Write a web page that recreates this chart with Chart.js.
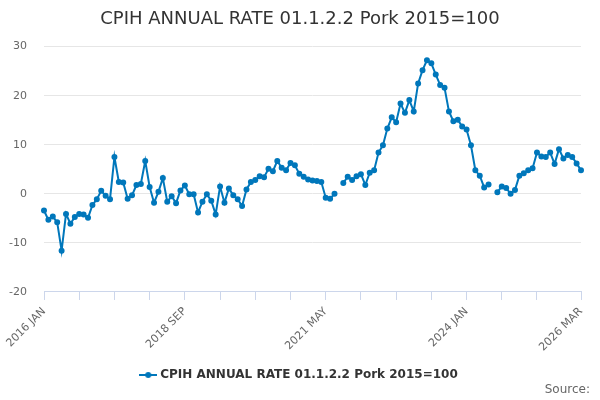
<!DOCTYPE html>
<html>
<head>
<meta charset="utf-8">
<script src="https://cdn.jsdelivr.net/npm/chart.js@4.4.1/dist/chart.umd.min.js"></script>
<style>
  html, body { margin: 0; padding: 0; background: #fff; }
  #wrap { width: 600px; height: 400px; }
</style>
</head>
<body>
<div id="wrap"><canvas id="myChart" width="600" height="400"></canvas></div>
<script>
const seriesName = 'CPIH ANNUAL RATE 01.1.2.2 Pork 2015=100';
const sourceText = 'Source:';
const monthNames = ['JAN','FEB','MAR','APR','MAY','JUN','JUL','AUG','SEP','OCT','NOV','DEC'];
const startYear = 2016;

// annual rate, % (monthly, 2016 JAN .. 2026 MAR), null = not published
const rateValues = [
  -3.4, -5.3, -4.6, -5.8, -11.6, -4.1, -6.1, -4.7, -4.1, -4.2, -4.9, -2.3,
  -1.1, 0.6, -0.4, -1.1, 7.5, 2.4, 2.3, -1.0, -0.3, 1.8, 2.0, 6.7,
  1.4, -1.8, 0.4, 3.2, -1.6, -0.5, -1.9, 0.7, 1.7, -0.1, -0.1, -3.8,
  -1.6, -0.1, -1.4, -4.2, 1.5, -1.8, 1.1, -0.3, -1.1, -2.5, 0.9, 2.4,
  2.8, 3.6, 3.4, 5.1, 4.6, 6.7, 5.3, 4.8, 6.3, 5.8, 4.1, 3.5,
  2.9, 2.7, 2.6, 2.4, -0.8, -1.0, 0.0, null, 2.2, 3.5, 2.8, 3.6,
  4.0, 1.8, 4.3, 4.8, 8.4, 9.9, 13.3, 15.6, 14.6, 18.4, 16.5, 19.1,
  16.8, 22.5, 25.2, 27.2, 26.6, 24.3, 22.2, 21.6, 16.8, 14.8, 15.1, 13.7,
  13.1, 9.9, 4.8, 3.7, 1.3, 1.9, null, 0.3, 1.5, 1.2, 0.0, 0.8,
  3.7, 4.2, 4.8, 5.2, 8.4, 7.6, 7.5, 8.4, 6.1, 9.1, 7.2, 7.9,
  7.5, 6.2, 4.8
];

const tickMarks = ['2016 JAN','2016 SEP','2017 MAY','2018 JAN','2018 SEP','2019 MAY','2020 JAN',
  '2020 SEP','2021 MAY','2022 JAN','2022 SEP','2023 MAY','2024 JAN','2024 SEP','2025 MAY','2026 MAR'];
const tickLabels = ['2016 JAN','2018 SEP','2021 MAY','2024 JAN','2026 MAR'];

const categories = [];
for (let i = 0; i < rateValues.length; i++) {
  const y = startYear + Math.floor(i / 12);
  categories.push(y + ' ' + monthNames[i % 12]);
}

const lineColor = '#0077bb';

// legend marker: short line with a dot, like the original
const legendMarker = document.createElement('canvas');
legendMarker.width = 18;
legendMarker.height = 8;
(function () {
  const c = legendMarker.getContext('2d');
  c.strokeStyle = lineColor;
  c.lineWidth = 2;
  c.beginPath();
  c.moveTo(0, 4);
  c.lineTo(18, 4);
  c.stroke();
  c.fillStyle = lineColor;
  c.beginPath();
  c.arc(9, 4, 3, 0, Math.PI * 2);
  c.fill();
})();

// "Source:" credit in the bottom right corner
const sourcePlugin = {
  id: 'sourceText',
  afterDraw(chart) {
    const c = chart.ctx;
    c.save();
    c.font = '12px "DejaVu Sans"';
    c.fillStyle = '#666666';
    c.textAlign = 'right';
    c.textBaseline = 'middle';
    c.fillText(sourceText, 590, 390);
    c.restore();
  }
};

const ctx = document.getElementById('myChart');

const chart = new Chart(ctx, {
  type: 'line',
  data: {
    labels: categories,
    datasets: [{
      label: seriesName,
      data: rateValues,
      borderColor: lineColor,
      backgroundColor: lineColor,
      borderWidth: 2,
      pointRadius: 2,
      pointHoverRadius: 3,
      tension: 0,
      spanGaps: false
    }]
  },
  plugins: [sourcePlugin],
  options: {
    responsive: false,
    animation: false,
    devicePixelRatio: 1,
    layout: {
      padding: { left: 0, right: 0, top: 0, bottom: 9 }
    },
    plugins: {
      title: {
        display: true,
        text: seriesName,
        color: '#333333',
        font: { family: 'DejaVu Sans', size: 18, weight: 'normal' },
        padding: { top: 9, bottom: 16 }
      },
      legend: {
        position: 'bottom',
        labels: {
          color: '#333333',
          font: { family: 'DejaVu Sans', size: 12, weight: 'bold' },
          usePointStyle: true,
          padding: 10,
          generateLabels: function (chart) {
            const items = Chart.defaults.plugins.legend.labels.generateLabels(chart);
            items.forEach(function (it) { it.pointStyle = legendMarker; });
            return items;
          }
        }
      },
      tooltip: { enabled: false }
    },
    scales: {
      x: {
        type: 'category',
        grid: {
          display: true,
          drawOnChartArea: false,
          drawTicks: true,
          tickLength: 8,
          tickColor: '#ccd6eb'
        },
        border: { color: '#ccd6eb', width: 1 },
        ticks: {
          autoSkip: false,
          maxRotation: 45,
          minRotation: 45,
          padding: 5,
          color: '#666666',
          font: { family: 'DejaVu Sans', size: 11 },
          callback: function (value, index) {
            const lab = categories[index];
            if (tickLabels.includes(lab)) return lab;
            if (tickMarks.includes(lab)) return '';
            return null;
          }
        }
      },
      y: {
        min: -20,
        max: 30,
        ticks: {
          stepSize: 10,
          padding: 17,
          color: '#666666',
          font: { family: 'DejaVu Sans', size: 11 }
        },
        grid: {
          color: '#e6e6e6',
          drawTicks: false
        },
        border: { display: false },
        afterFit: function (scale) { scale.width = 44; }
      },
      // empty axis that only keeps the right margin
      yRight: {
        type: 'linear',
        position: 'right',
        grid: { display: false, drawTicks: false },
        ticks: { display: false },
        border: { display: false },
        afterFit: function (scale) { scale.width = 19; }
      }
    }
  }
});
</script>
</body>
</html>
